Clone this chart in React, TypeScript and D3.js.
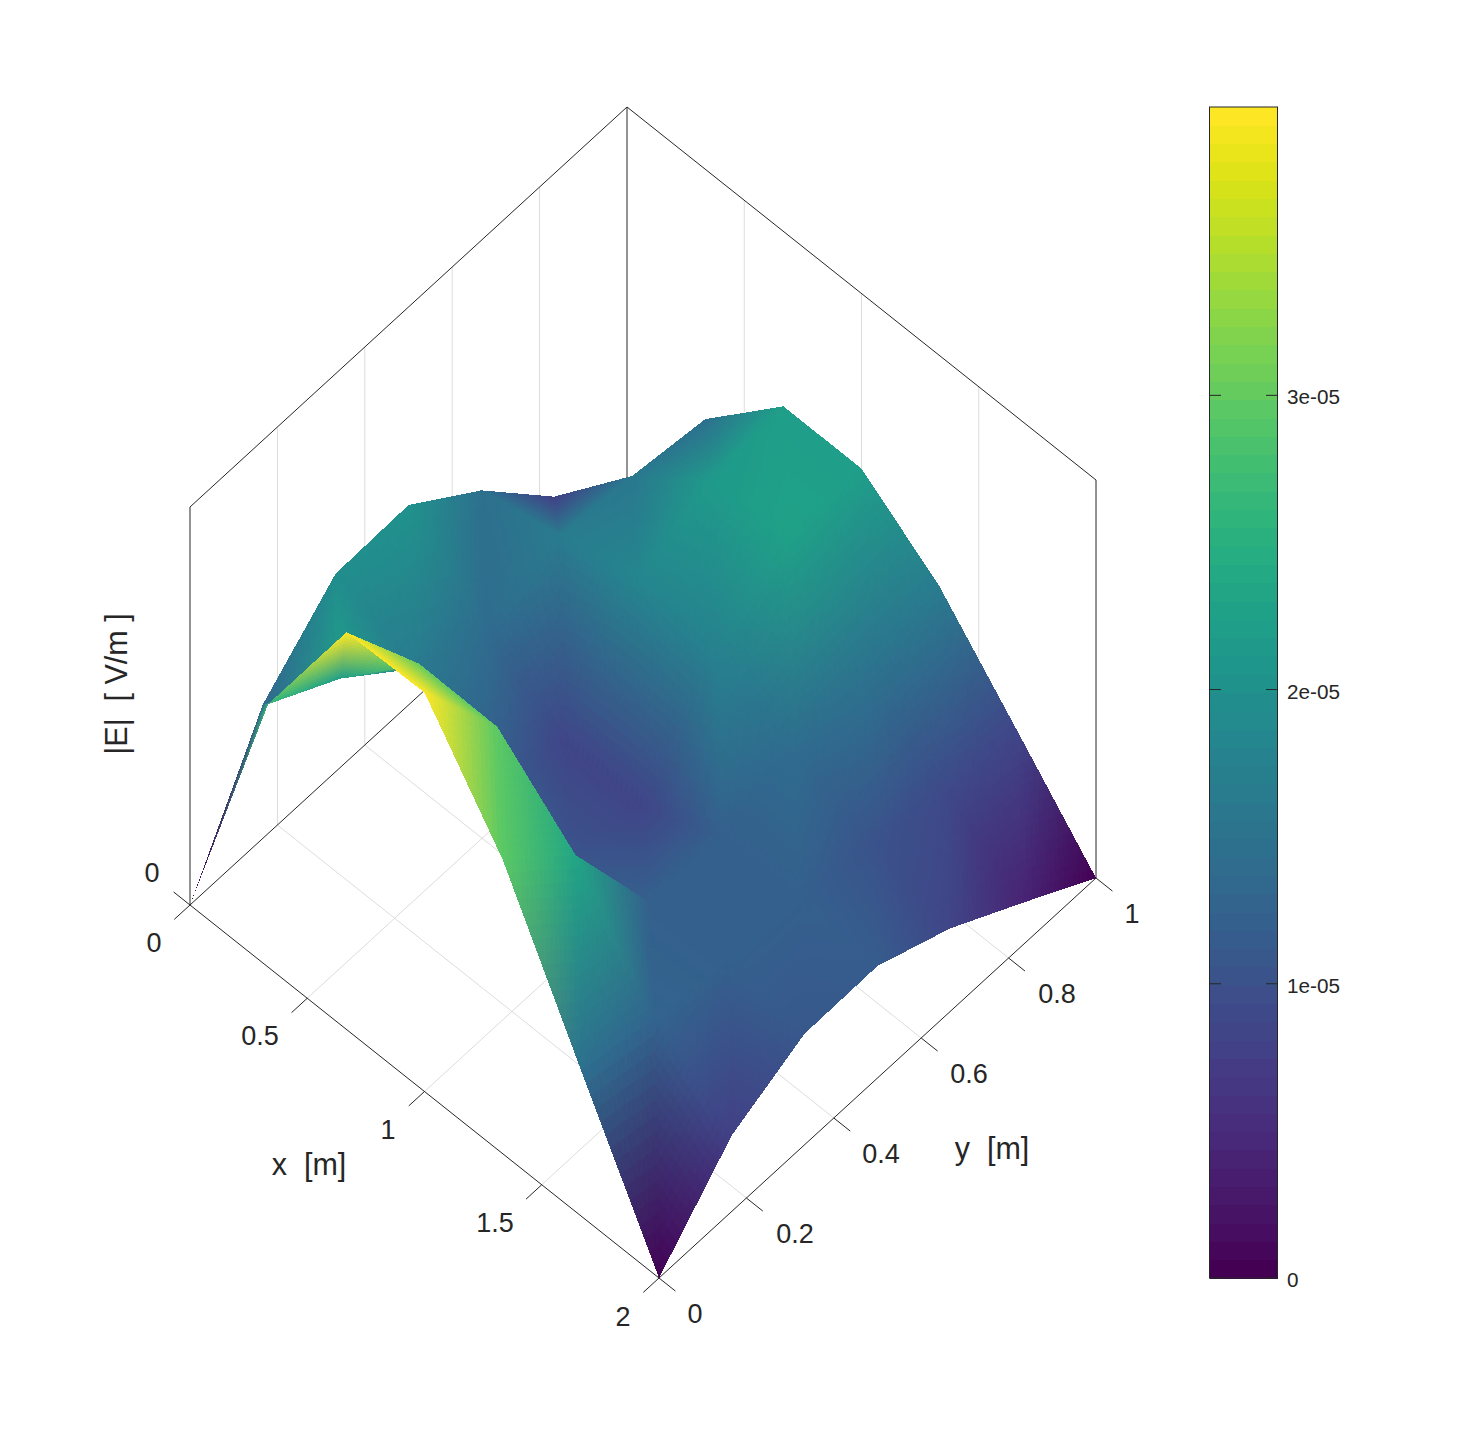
import * as d3 from "d3";

// |E| [V/m] on the 7 x 7 grid, one row per y value, x goes left to right
const xGrid = [0, 1 / 3, 2 / 3, 1, 4 / 3, 5 / 3, 2];
const yGrid = [0, 1 / 6, 2 / 6, 3 / 6, 4 / 6, 5 / 6, 1];
const row0 = [0, 2.63e-5, 3.97e-5, 3.99e-5, 2.94e-5, 1.46e-5, 0];
const row1 = [1.34e-5, 2.22e-5, 2.99e-5, 2.98e-5, 2.32e-5, 1.3e-5, 0.76e-5];
const row2 = [1.98e-5, 1.65e-5, 1.2e-5, 1.05e-5, 1.19e-5, 1.2e-5, 1.11e-5];
const row3 = [2.0e-5, 1.4e-5, 0.85e-5, 0.85e-5, 1.2e-5, 1.2e-5, 1.12e-5];
const row4 = [1.48e-5, 1.65e-5, 1.85e-5, 1.75e-5, 1.38e-5, 1.05e-5, 0.83e-5];
const row5 = [0.75e-5, 1.58e-5, 2.15e-5, 2.25e-5, 1.5e-5, 0.9e-5, 0.42e-5];
const row6 = [0, 1.48e-5, 2.23e-5, 2.23e-5, 1.67e-5, 0.84e-5, 0];
const rows = [row0, row1, row2, row3, row4, row5, row6];

const xTicks = [0, 0.5, 1, 1.5, 2];
const yTicks = [0, 0.2, 0.4, 0.6, 0.8, 1];
const cbTicks = [0, 1e-5, 2e-5, 3e-5];
const cbLabels = ["0", "1e-05", "2e-05", "3e-05"];
const zMax = 3.98e-5;
const levels = 64;

const ink = "#262626";
const gridColor = "#dcdcdc";

// oblique axes of the box
const x2sx = d3.scaleLinear().domain([0, 2]).range([0, 469]);
const x2sy = d3.scaleLinear().domain([0, 2]).range([0, 373]);
const y2sx = d3.scaleLinear().domain([0, 1]).range([0, 437]);
const y2sy = d3.scaleLinear().domain([0, 1]).range([0, -400]);
const z2sy = d3.scaleLinear().domain([0, zMax]).range([0, -398]);
const cbY = d3.scaleLinear().domain([0, zMax]).range([1278, 107]);

const project = (x: number, y: number, z: number): [number, number] => [
  190 + x2sx(x) + y2sx(y),
  905 + x2sy(x) + y2sy(y) + z2sy(z),
];

const seg = (a: [number, number], b: [number, number]) =>
  `M${a[0]},${a[1]}L${b[0]},${b[1]}`;

const colorOf = (z: number) => {
  const k = Math.min(levels - 1, Math.floor((z / zMax) * levels));
  return d3.rgb(d3.interpolateViridis(k / (levels - 1)));
};

type Vert = { p: [number, number]; c: d3.RGBColor };
type Cell = { d: string; fill: string };

// split one gouraud triangle in little flat ones
function shade(a: Vert, b: Vert, c: Vert, n: number, solid: boolean, out: Cell[]) {
  const at = (u: number, v: number) => {
    const w = 1 - u - v;
    return [
      a.p[0] * w + b.p[0] * u + c.p[0] * v,
      a.p[1] * w + b.p[1] * u + c.p[1] * v,
    ];
  };
  const push = (pts: number[][]) => {
    const cx = d3.mean(pts, (p) => p[0])!;
    const cy = d3.mean(pts, (p) => p[1])!;
    const w = 1 - cx - cy;
    out.push({
      d: "M" + pts.map((p) => at(p[0], p[1]).map((q) => q.toFixed(2)).join(",")).join("L") + "Z",
      fill: `rgb(${Math.round(a.c.r * w + b.c.r * cx + c.c.r * cy)},${Math.round(
        a.c.g * w + b.c.g * cx + c.c.g * cy,
      )},${Math.round(a.c.b * w + b.c.b * cx + c.c.b * cy)})`,
    });
  };
  // flat underlay so the little ones leave no pinholes
  if (solid) push([[0, 0], [1, 0], [0, 1]]);
  for (let i = 0; i < n; i++) {
    for (let j = 0; j < n - i; j++) {
      const p1 = [i / n, j / n];
      const p2 = [(i + 1) / n, j / n];
      const p3 = [i / n, (j + 1) / n];
      push([p1, p2, p3]);
      if (i + j < n - 1) push([p2, [(i + 1) / n, (j + 1) / n], p3]);
    }
  }
}

function surfaceCells() {
  const out: Cell[] = [];
  const vert = (i: number, j: number): Vert => ({
    p: project(xGrid[i], yGrid[j], rows[j][i]),
    c: colorOf(rows[j][i]),
  });
  // back to front: x grows towards the viewer, y goes away from it
  for (let i = 0; i < xGrid.length - 1; i++) {
    for (let j = yGrid.length - 2; j >= 0; j--) {
      const a = vert(i, j);
      const b = vert(i + 1, j);
      const c = vert(i + 1, j + 1);
      const e = vert(i, j + 1);
      shade(b, c, e, 16, true, out);
      shade(a, b, e, 16, i + j > 0, out);
    }
  }
  return out;
}

const cells = surfaceCells();

const textStyle = {
  fontFamily: "'Liberation Sans', sans-serif",
  fill: ink,
};

const xLabelPos: [number, number][] = [
  [154, 952],
  [260, 1045],
  [388, 1139],
  [495, 1232],
  [623, 1326],
];
const yLabelPos: [number, number][] = [
  [695, 1323],
  [795, 1243],
  [881, 1163],
  [969, 1083],
  [1057, 1003],
  [1132, 923],
];

export default function App() {
  return (
    <svg
      width={1461}
      height={1436}
      style={{ position: "absolute", left: 0, top: 0, background: "#fff" }}
    >
      {/* wall and floor grid */}
      <g stroke={gridColor} strokeWidth={1} fill="none">
        {yTicks.slice(1, -1).map((y) => (
          <g key={y}>
            <path d={seg(project(0, y, 0), project(0, y, zMax))} />
            <path d={seg(project(0, y, 0), project(2, y, 0))} />
          </g>
        ))}
        {xTicks.slice(1, -1).map((x) => (
          <g key={x}>
            <path d={seg(project(x, 1, 0), project(x, 1, zMax))} />
            <path d={seg(project(x, 0, 0), project(x, 1, 0))} />
          </g>
        ))}
      </g>

      {/* box */}
      <g stroke={ink} strokeWidth={1} fill="none">
        <path d={seg(project(0, 0, 0), project(0, 0, zMax))} />
        <path d={seg(project(0, 1, 0), project(0, 1, zMax))} />
        <path d={seg(project(2, 1, 0), project(2, 1, zMax))} />
        <path d={seg(project(0, 0, zMax), project(0, 1, zMax))} />
        <path d={seg(project(0, 1, zMax), project(2, 1, zMax))} />
        <path d={seg(project(0, 0, 0), project(0, 1, 0))} />
        <path d={seg(project(0, 0, 0), project(2, 0, 0))} />
        <path d={seg(project(2, 0, 0), project(2, 1, 0))} />
        {xTicks.map((x) => (
          <path key={x} d={seg(project(x, 0, 0), project(x, -0.036, 0))} />
        ))}
        {yTicks.map((y) => (
          <path key={y} d={seg(project(2, y, 0), project(2.07, y, 0))} />
        ))}
        <path d={seg(project(0, 0, 0), project(-0.07, 0, 0))} />
      </g>

      {/* surface */}
      <g shapeRendering="crispEdges">
        {cells.map((c, i) => (
          <path key={i} d={c.d} fill={c.fill} />
        ))}
      </g>

      {/* tick labels */}
      <g style={textStyle} fontSize={27} textAnchor="middle">
        <text x={152} y={882}>0</text>
        {xTicks.map((x, i) => (
          <text key={x} x={xLabelPos[i][0]} y={xLabelPos[i][1]}>{x}</text>
        ))}
        {yTicks.map((y, i) => (
          <text key={y} x={yLabelPos[i][0]} y={yLabelPos[i][1]}>{y}</text>
        ))}
      </g>
      <g style={textStyle} fontSize={30.5} textAnchor="middle">
        <text x={309} y={1175}>{"x\u00a0\u00a0[m]"}</text>
        <text x={992} y={1159}>{"y\u00a0\u00a0[m]"}</text>
        <text transform="translate(127,684) rotate(-90)">{"|E|\u00a0\u00a0[\u00a0V/m\u00a0]"}</text>
      </g>

      {/* colorbar */}
      <g shapeRendering="crispEdges">
        {d3.range(levels).map((k) => (
          <rect
            key={k}
            x={1209.5}
            width={68}
            y={cbY(((k + 1) / levels) * zMax)}
            height={cbY((k / levels) * zMax) - cbY(((k + 1) / levels) * zMax) + 0.5}
            fill={d3.interpolateViridis(k / (levels - 1))}
          />
        ))}
      </g>
      <rect x={1209.5} y={107} width={68} height={1171} fill="none" stroke={ink} strokeWidth={1} />
      <g stroke={ink} strokeWidth={1}>
        {cbTicks.map((t) => (
          <g key={t}>
            <line x1={1209.5} x2={1221} y1={cbY(t)} y2={cbY(t)} />
            <line x1={1266} x2={1277.5} y1={cbY(t)} y2={cbY(t)} />
          </g>
        ))}
      </g>
      <g style={textStyle} fontSize={20.7}>
        {cbTicks.map((t, i) => (
          <text key={t} x={1287} y={cbY(t) + 9}>{cbLabels[i]}</text>
        ))}
      </g>
    </svg>
  );
}
